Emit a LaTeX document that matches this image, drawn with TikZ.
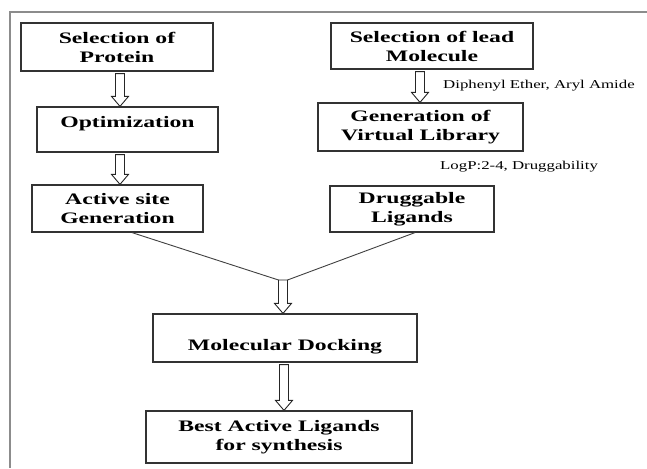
\documentclass[tikz,border=0pt]{standalone}
\usepackage{fontspec}
\setmainfont{Liberation Serif}
\newfontfamily\widefont[FakeStretch=1.48]{Liberation Serif}
\newfontfamily\notefont[FakeStretch=1.4]{Liberation Serif}
\usetikzlibrary{calc}

\tikzset{
  stepbox/.style={draw=black!80, line width=1.2pt, align=center, inner sep=0pt,
    font=\widefont\bfseries\fontsize{16}{19}\selectfont},
  note/.style={font=\notefont\fontsize{12}{14}\selectfont, inner sep=0pt, anchor=west},
  hollow/.style={draw=black!85, line width=0.9pt, fill=white},
  link/.style={draw=black!75, line width=0.9pt},
  frame/.style={draw=black!45, line width=1.3pt},
}

% hollow block arrow: x position, start point, tip point
\newcommand{\blockarrow}[3]{%
  \coordinate (ax) at (#1,0);
  \draw[hollow] ($(ax |- #2)+(-4.5,2)$) -- ($(ax |- #3)+(-4.5,-10)$) -- ++(-4,0)
    -- (ax |- #3) -- ++(8.5,-10) -- ++(-4,0) -- ($(ax |- #2)+(4.5,2)$) -- cycle;
}

\begin{document}
\begin{tikzpicture}[x=1pt, y=-1pt]

    \useasboundingbox (0,0) rectangle (647,468);
    \draw[frame] (647,12) -- (10,12) -- (10,468);

    % left column
    \node[stepbox, minimum width=192pt, minimum height=48pt] (prot) at (117,47) {Selection of\\Protein};
    \node[stepbox, minimum width=181pt, minimum height=45pt, text height=11.5pt, text depth=14.5pt] (opt) at (127.5,129.5) {Optimization};
    \node[stepbox, minimum width=171pt, minimum height=47pt] (act) at (117.5,208.5) {Active site\\Generation};

    % right column
    \node[stepbox, minimum width=202pt, minimum height=46pt] (lead) at (432,46) {Selection of lead\\Molecule};
    \node[stepbox, minimum width=205pt, minimum height=48pt] (vlib) at (420.5,127) {Generation of\\Virtual Library};
    \node[stepbox, minimum width=164pt, minimum height=46pt] (drug) at (412,209) {Druggable\\Ligands};

    \node[note] (diph) at (443,86) {Diphenyl Ether, Aryl Amide};
    \node[note] (logp) at (440,167) {LogP:2-4, Druggability};

    % bottom
    \node[stepbox, minimum width=264pt, minimum height=48pt, text height=27pt, text depth=3pt] (dock) at (285,338) {Molecular Docking};
    \node[stepbox, minimum width=266pt, minimum height=52pt] (best) at (279,437) {Best Active Ligands\\for synthesis};

    \coordinate (merge) at (283,278);
    \draw[link] ([xshift=14.5pt]act.south) -- ([xshift=-4.5pt,yshift=-2pt]merge);
    \draw[link] ([xshift=3pt]drug.south) -- ([xshift=4.5pt,yshift=-2pt]merge);

    % arrows
    \blockarrow{120}{prot.south}{opt.north}
    \blockarrow{120}{opt.south}{act.north}
    \blockarrow{420}{lead.south}{vlib.north}
    \blockarrow{283}{merge}{dock.north}
    \blockarrow{284}{dock.south}{best.north}

\end{tikzpicture}
\end{document}
